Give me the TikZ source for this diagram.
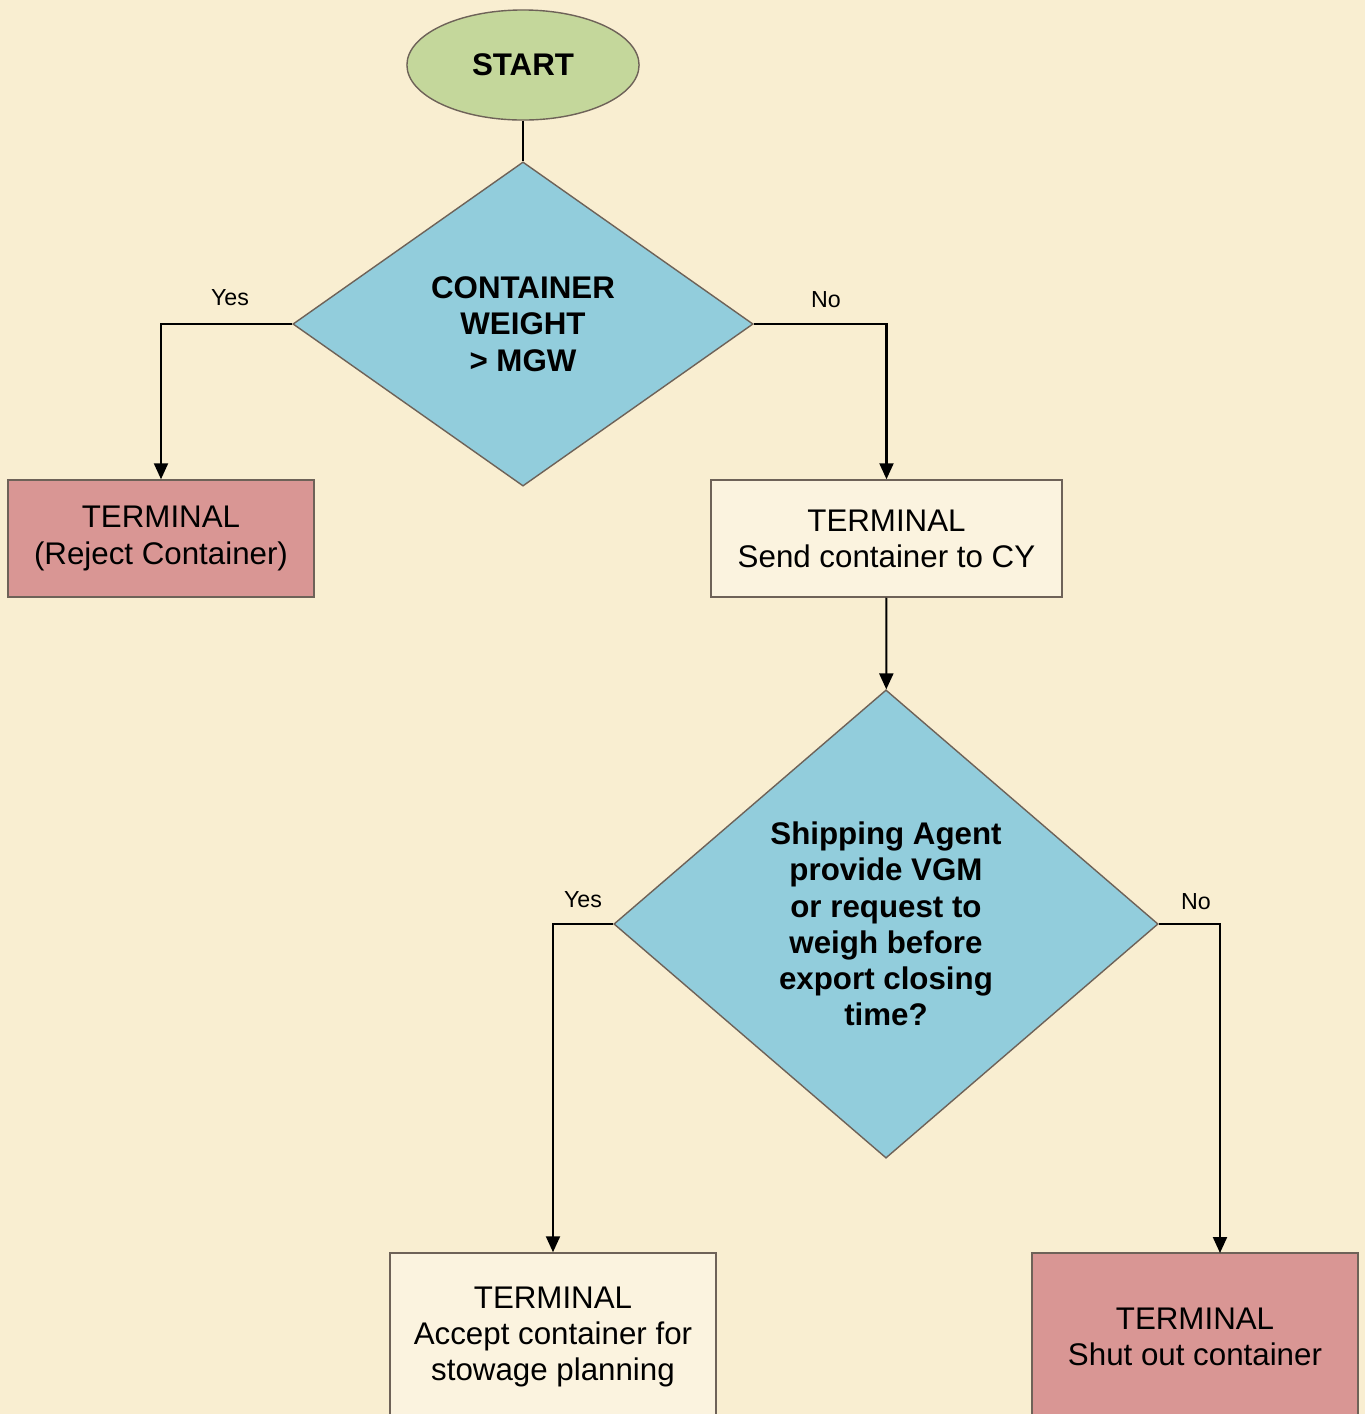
\documentclass[tikz,border=0pt]{standalone}
\usepackage{fontspec}
\setmainfont{Liberation Sans}
\usetikzlibrary{shapes.geometric,arrows.meta}

\definecolor{bgcream}{HTML}{F9EED1}
\definecolor{startgreen}{HTML}{C4D79B}
\definecolor{askblue}{HTML}{92CDDC}
\definecolor{rejectred}{HTML}{D99694}
\definecolor{edgegrey}{HTML}{6E6258}

\tikzset{
    txt/.style={font=\fontsize{8.9}{10.3}\selectfont, align=center},
    startnode/.style={ellipse, draw=edgegrey, fill=startgreen, line width=0.4pt,
        minimum width=2.32cm, minimum height=1.1cm, txt, font=\fontsize{8.9}{10.3}\selectfont\bfseries},
    question/.style={diamond, draw=edgegrey, fill=askblue, line width=0.4pt, inner sep=0pt,
        txt, font=\fontsize{8.9}{10.3}\selectfont\bfseries},
    termbox/.style={rectangle, draw=edgegrey, line width=0.4pt, txt},
    badbox/.style={termbox, fill=rejectred},
    okbox/.style={termbox, fill=bgcream!70!white},
    answer/.style={font=\fontsize{6.6}{7.5}\selectfont},
    link/.style={line width=0.6pt},
    >={Triangle[length=0.16cm,width=0.14cm]}
}

\begin{document}
\begin{tikzpicture}[x=0.01cm,y=-0.01cm]
    \clip (0,0) rectangle (1365,1414);
    \fill[bgcream] (0,0) rectangle (1365,1414);

    \node[startnode] (start) at (523,65) {START};
    \node[question, minimum width=4.6cm, minimum height=3.24cm] (weight) at (523,324)
        {CONTAINER\\WEIGHT\\> MGW};
    \node[badbox, minimum width=3.06cm, minimum height=1.17cm] (reject) at (161,538.5)
        {TERMINAL\\(Reject Container)};
    \node[okbox, minimum width=3.51cm, minimum height=1.17cm] (cy) at (886.5,538.5)
        {TERMINAL\\Send container to CY};
    \node[question, minimum width=5.44cm, minimum height=4.68cm] (vgm) at (886,924)
        {Shipping Agent\\provide VGM\\or request to\\weigh before\\export closing\\time?};
    \node[okbox, minimum width=3.26cm, minimum height=1.68cm] (accept) at (553,1337)
        {TERMINAL\\Accept container for\\stowage planning};
    \node[badbox, minimum width=3.26cm, minimum height=1.68cm] (shut) at (1195,1337)
        {TERMINAL\\Shut out container};
    \coordinate (shuttop) at (1220,1253);

    \node[answer] (yes1) at (230,298) {Yes};
    \node[answer] (no1) at (826,300) {No};
    \node[answer] (yes2) at (583,900) {Yes};
    \node[answer] (no2) at (1196,902) {No};

    \draw[link] (start) -- (weight);
    \draw[link,->] (weight.west) -| (reject.north);
    \draw[link,->] (weight.east) -| (cy.north);
    \draw[link,->] (cy) -- (vgm);
    \draw[link,->] (vgm.west) -| (accept.north);
    \draw[link,->] (vgm.east) -| (shuttop);
\end{tikzpicture}
\end{document}
